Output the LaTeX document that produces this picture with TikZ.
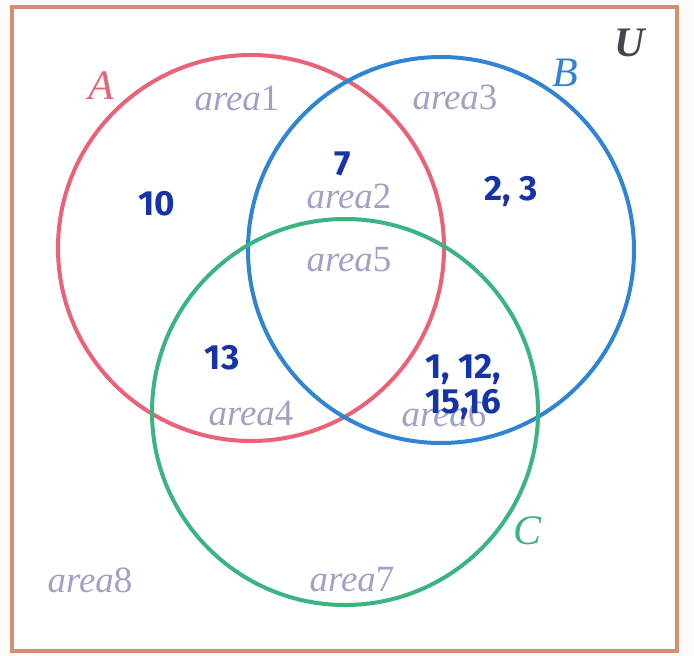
\documentclass[tikz,border=0pt]{standalone}
\usepackage{fontspec}
\newfontfamily\handfont{Fira Sans}
\newfontfamily\lblfont{Liberation Serif}
\definecolor{bordc}{RGB}{214,142,112}
\definecolor{redc}{RGB}{234,98,118}
\definecolor{bluec}{RGB}{48,132,212}
\definecolor{greenc}{RGB}{58,180,128}
\definecolor{areac}{RGB}{160,162,196}
\definecolor{handc}{RGB}{22,52,168}
\definecolor{uc}{RGB}{70,70,80}
\newcommand{\arealab}[1]{{\itshape area}#1}
\begin{document}
\begin{tikzpicture}[x=1pt,y=-1pt,
  arealbl/.style={text=areac,font=\lblfont\fontsize{37}{44}\selectfont},
  setlbl/.style={font=\lblfont\fontsize{42}{48}\selectfont\itshape},
  hand/.style={text=handc,font=\handfont\fontsize{35}{40}\selectfont\bfseries},
  circ/.style={line width=4pt}]
\useasboundingbox (0,0) rectangle (694,656);
\fill[white!97!gray] (0,0) rectangle (694,656);
\fill[white] (12,7) rectangle (677,651);
\draw[bordc,line width=3.5pt] (12,7) rectangle (677,651);
\node[circ,draw=redc,circle,minimum size=386pt,inner sep=0pt] (A) at (251,248) {};
\node[circ,draw=bluec,circle,minimum size=386pt,inner sep=0pt] (B) at (441,250) {};
\node[circ,draw=greenc,circle,minimum size=386pt,inner sep=0pt] (C) at (345,412) {};
\node[setlbl,text=redc] (la) at (101,86) {A};
\node[setlbl,text=bluec] (lb) at (565,73) {B};
\node[setlbl,text=uc] (lu) at (630,43) {\bfseries U};
\node[setlbl,text=greenc] (lc) at (528,531) {C};
\node[arealbl] (a1) at (237,98) {\arealab{1}};
\node[arealbl] (a3) at (455,97) {\arealab{3}};
\node[arealbl] (a2) at (349,196) {\arealab{2}};
\node[arealbl] (a5) at (349,260) {\arealab{5}};
\node[arealbl] (a4) at (251,414) {\arealab{4}};
\node[arealbl] (a6) at (444,414) {\arealab{6}};
\node[arealbl] (a7) at (352,580) {\arealab{7}};
\node[arealbl] (a8) at (90,580) {\arealab{8}};
\node[hand] (n10) at (157,204) {10};
\node[hand] (n7) at (343,164) {7};
\node[hand] (n23) at (511,192) {2, 3};
\node[hand] (n13) at (222,358) {13};
\node[hand] (n1) at (463,370) {1, 12,};
\node[hand] (n15) at (463,405) {15,16};
\end{tikzpicture}
\end{document}
